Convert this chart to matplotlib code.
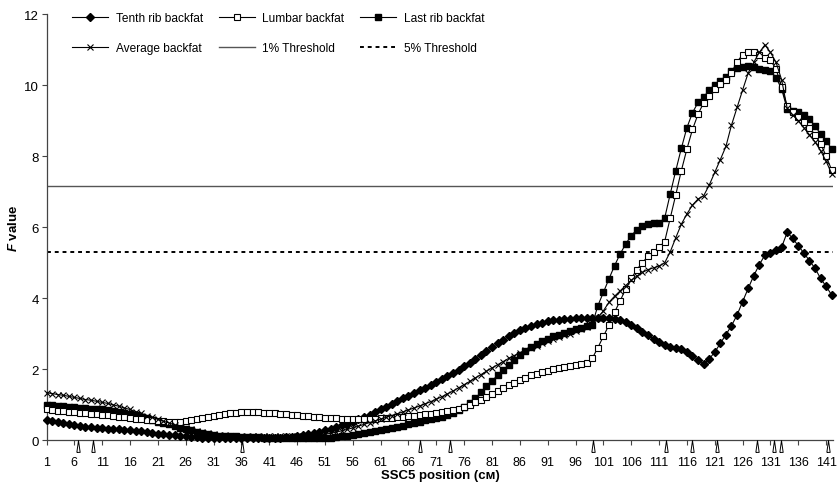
import numpy as np
import matplotlib
matplotlib.use('Agg')
import matplotlib.pyplot as plt
import matplotlib.transforms as mtransforms

plt.rcParams['font.family'] = ['Liberation Sans', 'DejaVu Sans']
plt.rcParams['mathtext.fontset'] = 'custom'
plt.rcParams['mathtext.it'] = 'Liberation Sans:italic:bold'
plt.rcParams['mathtext.rm'] = 'Liberation Sans:bold'

# Positions (cM) on SSC5
position = np.arange(1, 143)

# F values, one per cM
tenth_rib = [
    0.57, 0.54, 0.51, 0.48, 0.45, 0.42, 0.40, 0.38, 0.36, 0.35,
    0.34, 0.32, 0.31, 0.30, 0.28, 0.27, 0.25, 0.24, 0.22, 0.20,
    0.18, 0.16, 0.15, 0.13, 0.12, 0.10, 0.09, 0.08, 0.07, 0.07,
    0.06, 0.06, 0.06, 0.06, 0.06, 0.06, 0.06, 0.06, 0.06, 0.06,
    0.06, 0.07, 0.07, 0.08, 0.09, 0.11, 0.13, 0.16, 0.19, 0.23,
    0.27, 0.31, 0.36, 0.41, 0.46, 0.52, 0.58, 0.64, 0.71, 0.78,
    0.86, 0.94, 1.02, 1.09, 1.17, 1.24, 1.32, 1.40, 1.47, 1.55,
    1.63, 1.71, 1.80, 1.89, 1.98, 2.08, 2.18, 2.29, 2.40, 2.51,
    2.62, 2.72, 2.82, 2.92, 3.01, 3.09, 3.16, 3.22, 3.27, 3.31,
    3.34, 3.37, 3.39, 3.41, 3.42, 3.43, 3.43, 3.43, 3.43, 3.44,
    3.45, 3.44, 3.42, 3.38, 3.32, 3.24, 3.15, 3.05, 2.95, 2.85,
    2.75, 2.68, 2.63, 2.60, 2.56, 2.48, 2.38, 2.26, 2.15, 2.28,
    2.48, 2.72, 2.97, 3.22, 3.52, 3.90, 4.27, 4.63, 4.94, 5.21,
    5.27, 5.34, 5.43, 5.85, 5.68, 5.47, 5.27, 5.05, 4.84, 4.55,
    4.33, 4.08]
lumbar = [
    0.86, 0.85, 0.83, 0.81, 0.80, 0.78, 0.77, 0.76, 0.74, 0.73,
    0.71, 0.70, 0.68, 0.66, 0.64, 0.62, 0.60, 0.58, 0.56, 0.55,
    0.54, 0.53, 0.52, 0.52, 0.52, 0.53, 0.55, 0.58, 0.61, 0.64,
    0.67, 0.70, 0.72, 0.75, 0.77, 0.78, 0.79, 0.79, 0.78, 0.77,
    0.76, 0.75, 0.74, 0.72, 0.71, 0.70, 0.68, 0.67, 0.65, 0.64,
    0.63, 0.62, 0.61, 0.60, 0.60, 0.59, 0.59, 0.59, 0.60, 0.60,
    0.61, 0.62, 0.63, 0.64, 0.65, 0.67, 0.68, 0.70, 0.72, 0.74,
    0.76, 0.78, 0.81, 0.84, 0.88, 0.93, 0.99, 1.06, 1.14, 1.22,
    1.30, 1.38, 1.46, 1.54, 1.62, 1.70, 1.76, 1.82, 1.87, 1.91,
    1.95, 1.99, 2.02, 2.05, 2.08, 2.11, 2.14, 2.18, 2.30, 2.60,
    2.92, 3.24, 3.60, 3.92, 4.25, 4.55, 4.80, 5.00, 5.17, 5.30,
    5.43, 5.59, 6.25, 6.91, 7.59, 8.20, 8.75, 9.18, 9.50, 9.70,
    9.88, 10.02, 10.15, 10.35, 10.65, 10.86, 10.93, 10.94, 10.86, 10.76,
    10.70, 10.45, 9.95, 9.40, 9.25, 9.10, 8.95, 8.80, 8.60, 8.35,
    8.00, 7.60]
last_rib = [
    0.99, 0.98, 0.96, 0.95, 0.93, 0.92, 0.91, 0.90, 0.88, 0.87,
    0.86, 0.84, 0.82, 0.80, 0.77, 0.74, 0.70, 0.66, 0.61, 0.57,
    0.52, 0.48, 0.44, 0.39, 0.35, 0.31, 0.27, 0.23, 0.19, 0.16,
    0.14, 0.12, 0.11, 0.10, 0.10, 0.09, 0.09, 0.08, 0.08, 0.07,
    0.07, 0.06, 0.06, 0.06, 0.05, 0.05, 0.05, 0.05, 0.05, 0.05,
    0.06, 0.07, 0.08, 0.10, 0.12, 0.14, 0.16, 0.19, 0.22, 0.25,
    0.28, 0.31, 0.34, 0.37, 0.40, 0.44, 0.48, 0.52, 0.55, 0.58,
    0.61, 0.65, 0.71, 0.77, 0.84, 0.93, 1.03, 1.17, 1.34, 1.51,
    1.67, 1.82, 1.97, 2.12, 2.26, 2.40, 2.52, 2.62, 2.70, 2.78,
    2.85, 2.92, 2.97, 3.02, 3.07, 3.12, 3.16, 3.20, 3.25, 3.78,
    4.16, 4.54, 4.91, 5.24, 5.52, 5.76, 5.92, 6.04, 6.08, 6.11,
    6.12, 6.25, 6.93, 7.59, 8.22, 8.80, 9.22, 9.51, 9.65, 9.87,
    10.00, 10.12, 10.22, 10.40, 10.47, 10.50, 10.53, 10.50, 10.45, 10.43,
    10.40, 10.21, 9.89, 9.32, 9.28, 9.23, 9.15, 9.04, 8.85, 8.62,
    8.43, 8.20]
average = [
    1.33, 1.31, 1.28, 1.26, 1.23, 1.20, 1.17, 1.14, 1.12, 1.09,
    1.06, 1.03, 0.99, 0.95, 0.90, 0.86, 0.80, 0.75, 0.69, 0.64,
    0.58, 0.53, 0.48, 0.43, 0.38, 0.34, 0.30, 0.26, 0.23, 0.20,
    0.17, 0.15, 0.13, 0.12, 0.11, 0.10, 0.10, 0.10, 0.10, 0.10,
    0.10, 0.10, 0.10, 0.10, 0.10, 0.10, 0.11, 0.11, 0.12, 0.14,
    0.16, 0.19, 0.22, 0.26, 0.30, 0.34, 0.39, 0.44, 0.49, 0.54,
    0.59, 0.64, 0.69, 0.74, 0.79, 0.85, 0.90, 0.96, 1.02, 1.08,
    1.15, 1.22, 1.30, 1.38, 1.47, 1.56, 1.65, 1.75, 1.84, 1.94,
    2.03, 2.12, 2.21, 2.30, 2.38, 2.46, 2.53, 2.60, 2.66, 2.72,
    2.78, 2.84, 2.90, 2.95, 3.00, 3.06, 3.12, 3.18, 3.27, 3.45,
    3.64, 3.88, 4.05, 4.20, 4.35, 4.50, 4.62, 4.72, 4.80, 4.85,
    4.90, 4.99, 5.30, 5.70, 6.08, 6.37, 6.62, 6.79, 6.88, 7.18,
    7.54, 7.90, 8.27, 8.87, 9.37, 9.86, 10.34, 10.64, 10.92, 11.13,
    10.92, 10.64, 10.15, 9.35, 9.15, 9.00, 8.80, 8.60, 8.40, 8.15,
    7.85, 7.50]

# Significance thresholds
threshold_1pct = 7.15
threshold_5pct = 5.30

# Genetic marker positions shown as triangles under the axis
marker_pos = [6.6, 9.3, 36.1, 68.0, 73.5, 99.1, 112.3, 116.9, 121.4,
              128.5, 131.6, 132.9, 141.3]

tick_pos = np.arange(1, 142, 5)

# Create the figure
fig = plt.figure(figsize=(8.38, 4.85), dpi=100)
ax = fig.add_axes([0.0555, 0.0907, 0.939, 0.8783])

lw = 0.8
h_tenth, = ax.plot(position, tenth_rib, color='black', lw=lw, marker='D',
                   ms=4.0, mfc='black', mec='black', clip_on=False,
                   label='Tenth rib backfat', zorder=3)
h_lumbar, = ax.plot(position, lumbar, color='black', lw=lw, marker='s',
                    ms=4.8, mfc='white', mec='black', mew=0.8, clip_on=False,
                    label='Lumbar backfat', zorder=4)
h_last, = ax.plot(position, last_rib, color='black', lw=lw, marker='s',
                  ms=4.8, mfc='black', mec='black', clip_on=False,
                  label='Last rib backfat', zorder=3)
h_avg, = ax.plot(position, average, color='black', lw=lw, marker='x',
                 ms=4.4, mew=0.8, clip_on=False,
                 label='Average backfat', zorder=5)
h_1 = ax.axhline(threshold_1pct, color='#555555', lw=1.0, label='1% Threshold', zorder=2)
h_5 = ax.axhline(threshold_5pct, color='black', lw=1.4, ls=(0, (2, 2)),
                 label='5% Threshold', zorder=2)

# Marker triangles just below the x axis
tri = [(-0.28, -1.0), (0.28, -1.0), (0.0, 1.0), (-0.28, -1.0)]
trans = mtransforms.blended_transform_factory(ax.transData, ax.transAxes)
ax.plot(marker_pos, [-0.014] * len(marker_pos), ls='none', marker=tri,
        ms=8.5, mfc='white', mec='black', mew=0.7, transform=trans,
        clip_on=False, zorder=6)

# Axes
ax.set_xlim(1, 142.3)
ax.set_ylim(0, 12)
ax.set_xticks(tick_pos)
ax.set_yticks(np.arange(0, 13, 2))
ax.tick_params(axis='x', direction='out', length=3.5, width=0.8, pad=8,
               labelsize=9, color='#444444')
ax.tick_params(axis='y', direction='out', length=3.5, width=0.8, pad=2,
               labelsize=9.5, color='#444444')
for side in ['top', 'right']:
    ax.spines[side].set_visible(False)
for side in ['left', 'bottom']:
    ax.spines[side].set_color('#444444')
    ax.spines[side].set_linewidth(0.9)

ax.set_xlabel('SSC5 position (\u1d04\u1d0d)', fontsize=9.5, fontweight='bold',
              labelpad=1)
ax.set_ylabel(r'$\it{F}$ value', fontsize=9.5, fontweight='bold', labelpad=3)

# Legend: 2 rows x 3 columns (matplotlib fills column-wise)
handles = [h_tenth, h_avg, h_lumbar, h_1, h_last, h_5]
ax.legend(handles=handles, labels=[h.get_label() for h in handles], ncol=3,
          loc='upper left', bbox_to_anchor=(0.033, 1.004), frameon=False,
          fontsize=8.6, handlelength=3.0, handletextpad=0.65, columnspacing=1.3,
          labelspacing=1.5, borderpad=0, numpoints=1, borderaxespad=0)

plt.savefig('out.png', dpi=100)
